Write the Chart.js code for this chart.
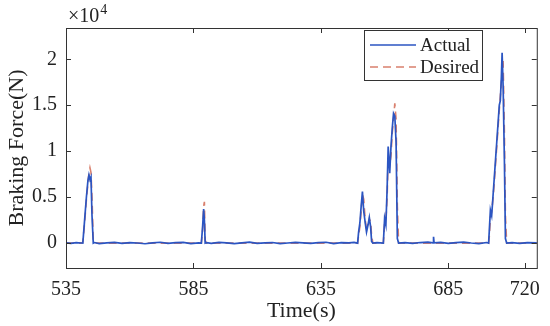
<!DOCTYPE html>
<html>
<head>
<meta charset="utf-8">
<script src="https://cdn.jsdelivr.net/npm/chart.js@4.4.1/dist/chart.umd.min.js"></script>
<style>
  html, body { margin: 0; padding: 0; background: #fff; }
  #wrap { width: 550px; height: 326px; }
</style>
</head>
<body>
<div id="wrap"><canvas id="chart" width="550" height="326"></canvas></div>
<script>
// time (s)
const timeSec = [
    535, 537, 539, 541,
    541.6, 542.3, 543, 543.6, 544, 544.4, 544.8, 545.2, 545.7,
    546.2, 548, 551, 554, 557, 560, 563, 566, 569, 572, 575, 578, 581, 584, 587,
    588.1, 588.6, 589, 589.3, 589.6,
    590.1, 592, 595, 598, 601, 604, 607, 610, 613, 616, 619, 622, 625, 628, 631, 634, 637, 640, 643, 646, 648,
    649.4, 649.8, 650.3, 650.8, 651.3, 651.8, 652.4, 652.9, 653.5, 654.0, 654.5, 654.9, 655.4,
    657,
    659.5, 660.0, 660.5, 661.0, 661.4, 662.0, 662.5, 663.0, 663.5, 664.0, 664.5, 665.0, 665.5,
    668, 671, 674, 677, 679,
    679.2,
    679.4, 682, 685, 688, 691, 694, 697, 700,
    700.8, 701.1, 701.5, 702, 702.5, 703, 703.5, 704, 704.5, 705, 705.4, 705.8, 706.1, 706.5, 707, 707.4, 707.9,
    710, 713, 716, 720
];

// braking force (N)
const actualForce = [
    40, -30, 60, 20,
    0, 2500, 5000, 6800, 7400, 6900, 7200, 3000, 0,
    70, -40, 30, 90, -20, 50, 20, -60, 40, 100, -20, 50, 80, -40, 30,
    0, 1800, 3700, 2500, 0,
    50, -30, 90, 30, -50, 40, 110, -20, 30, 70, -40, 20, 90, 40, -30, 60, 100, -40, 50, 30, 80,
    0, 1200, 2200, 4000, 5600, 3500, 2200, 1200, 2000, 2800, 1800, 200, 0,
    60,
    0, 2700, 2000, 6000, 10500, 7600, 10500, 12500, 14100, 13800, 11000, 500, 0,
    50, -30, 70, 110, 30,
    700,
    30, 90, -30, 50, 120, 20, -50, 70,
    0, 1500, 3600, 3000, 5000, 7000, 9000, 11000, 13000, 15000, 15500, 18000, 20700, 17000, 9000, 500, 0,
    50, -30, 60, 30
];

const desiredForce = [
    0, 0, 0, 0,
    100, 2200, 4700, 6500, 7600, 8200, 7700, 5000, 200,
    0, 0, 0, 0, 0, 0, 0, 0, 0, 0, 0, 0, 0, 0, 0,
    0, 1500, 4000, 4500, 300,
    0, 0, 0, 0, 0, 0, 0, 0, 0, 0, 0, 0, 0, 0, 0, 0, 0, 0, 0, 0, 0,
    0, 800, 1800, 3500, 5300, 4800, 2500, 1500, 1700, 2600, 2400, 800, 0,
    0,
    0, 2200, 2500, 5000, 9500, 8500, 9500, 12000, 13500, 15200, 13500, 4000, 0,
    0, 0, 0, 0, 0,
    0,
    0, 0, 0, 0, 0, 0, 0, 0,
    0, 800, 2800, 3400, 4800, 6500, 8500, 10500, 12500, 14500, 16000, 17500, 19000, 19800, 12000, 3000, 0,
    0, 0, 0, 0
];

const xTickValues = [535, 585, 635, 685, 715];
const xTickLabels = ['535', '585', '635', '685', '720'];
const yTickValues = [0, 5000, 10000, 15000, 20000];
const yTickLabels = ['0', '0.5', '1', '1.5', '2'];
const seriesNames = ['Actual', 'Desired'];

const blue = '#2b55c2';
const red = '#d9806e';
const frame = '#333333';
const serif = '"Liberation Serif", "Times New Roman", serif';

const toPoints = (vals) => timeSec.map((t, i) => ({ x: t, y: vals[i] }));

// frame, inward ticks, exponent and boxed legend like the matlab figure
const decorPlugin = {
    id: 'decor',
    afterDraw(chart) {
        const { ctx, chartArea: a, scales } = chart;
        ctx.save();
        ctx.strokeStyle = frame;
        ctx.lineWidth = 1;
        ctx.strokeRect(a.left + 0.5, a.top + 0.5, a.right - a.left, a.bottom - a.top);

        ctx.beginPath();
        xTickValues.forEach((v) => {
            const px = Math.round(scales.x.getPixelForValue(v)) + 0.5;
            ctx.moveTo(px, a.bottom);
            ctx.lineTo(px, a.bottom - 5);
            ctx.moveTo(px, a.top);
            ctx.lineTo(px, a.top + 5);
        });
        yTickValues.forEach((v) => {
            const py = Math.round(scales.y.getPixelForValue(v)) + 0.5;
            ctx.moveTo(a.left, py);
            ctx.lineTo(a.left + 5, py);
            ctx.moveTo(a.right, py);
            ctx.lineTo(a.right - 5, py);
        });
        ctx.stroke();

        // x10^4
        ctx.fillStyle = '#222';
        ctx.textBaseline = 'alphabetic';
        ctx.textAlign = 'left';
        ctx.font = '20px ' + serif;
        ctx.fillText('\u00d710', a.left + 2, 22);
        const w = ctx.measureText('\u00d710').width;
        ctx.font = '14px ' + serif;
        ctx.fillText('4', a.left + 2 + w + 1, 14);

        // legend
        const lx = 364, ly = 30, lw = 118, lh = 50;
        ctx.fillStyle = '#fff';
        ctx.fillRect(lx, ly, lw, lh);
        ctx.strokeStyle = frame;
        ctx.strokeRect(lx + 0.5, ly + 0.5, lw, lh);
        const rows = [
            { name: seriesNames[0], color: blue, dash: [], y: ly + 15 },
            { name: seriesNames[1], color: red, dash: [8, 5], y: ly + 37 }
        ];
        rows.forEach((r) => {
            ctx.strokeStyle = r.color;
            ctx.lineWidth = 1.6;
            ctx.setLineDash(r.dash);
            ctx.beginPath();
            ctx.moveTo(lx + 6, r.y);
            ctx.lineTo(lx + 52, r.y);
            ctx.stroke();
            ctx.setLineDash([]);
            ctx.fillStyle = '#222';
            ctx.font = '19px ' + serif;
            ctx.textBaseline = 'middle';
            ctx.fillText(r.name, lx + 56, r.y + 1);
        });
        ctx.restore();
    }
};

new Chart(document.getElementById('chart'), {
    type: 'line',
    plugins: [decorPlugin],
    data: {
        datasets: [
            {
                label: seriesNames[0],
                data: toPoints(actualForce),
                borderColor: blue,
                borderWidth: 1.7,
                pointRadius: 0,
                tension: 0
            },
            {
                label: seriesNames[1],
                data: toPoints(desiredForce),
                borderColor: red,
                borderWidth: 1.6,
                borderDash: [8, 5],
                pointRadius: 0,
                tension: 0
            }
        ]
    },
    options: {
        responsive: false,
        animation: false,
        layout: { padding: { top: 28, right: 8, left: 0, bottom: 0 } },
        plugins: {
            legend: { display: false },
            tooltip: { enabled: false }
        },
        scales: {
            x: {
                type: 'linear',
                min: 535,
                max: 719.7,
                afterFit: (s) => { s.height = 58; },
                afterBuildTicks: (s) => { s.ticks = xTickValues.map((v) => ({ value: v })); },
                grid: { display: false, drawTicks: false },
                border: { display: false },
                ticks: {
                    padding: 10,
                    maxRotation: 0,
                    color: '#222',
                    font: { family: serif, size: 20 },
                    callback: (v) => xTickLabels[xTickValues.indexOf(v)]
                },
                title: {
                    display: true,
                    text: 'Time(s)',
                    color: '#222',
                    font: { family: serif, size: 22 },
                    padding: { top: 0, bottom: 2 }
                }
            },
            y: {
                min: -2700,
                max: 23400,
                afterFit: (s) => { s.width = 66; },
                afterBuildTicks: (s) => { s.ticks = yTickValues.map((v) => ({ value: v })); },
                grid: { display: false, drawTicks: false },
                border: { display: false },
                ticks: {
                    padding: 9,
                    color: '#222',
                    font: { family: serif, size: 20 },
                    callback: (v) => yTickLabels[yTickValues.indexOf(v)]
                },
                title: {
                    display: true,
                    text: 'Braking Force(N)',
                    color: '#222',
                    font: { family: serif, size: 22 },
                    padding: { top: 4, bottom: 0 }
                }
            }
        }
    }
});
</script>
</body>
</html>
